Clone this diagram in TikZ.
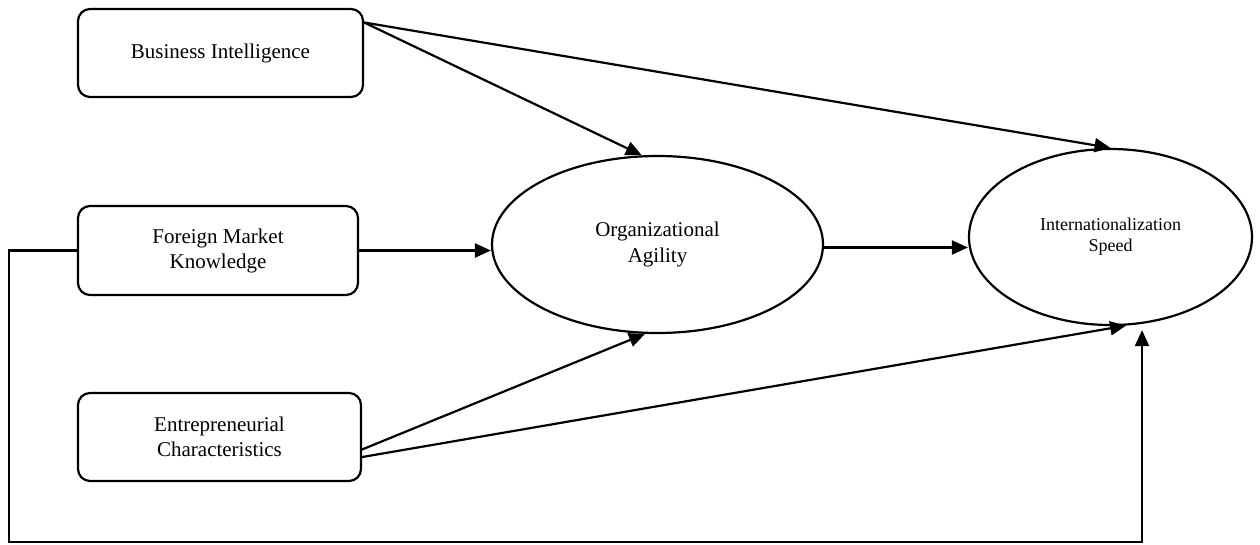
\documentclass[tikz,border=0pt]{standalone}
\usepackage{fontspec}
\setmainfont{Liberation Serif}
\usetikzlibrary{arrows.meta,calc,positioning,shapes.geometric}
\tikzset{
  construct/.style={draw,line width=2.2pt,rounded corners=12pt,inner sep=0pt,
    align=center,font=\fontsize{21}{25}\selectfont},
  latent/.style={draw,ellipse,line width=2.2pt,inner sep=0pt,align=center},
  link/.style={line width=2.2pt,-{Triangle[length=16pt,width=14pt]}}
}

\begin{document}
\begin{tikzpicture}[x=1pt,y=-1pt]
  \useasboundingbox (0,0) rectangle (1260,544);
  % draw constructs
  \node[construct,minimum width=285pt,minimum height=88pt] (bi)  at (220.5,53) {Business Intelligence};
  \node[construct,minimum width=280pt,minimum height=89pt] (fmk) at (218,250.5) {Foreign Market\\Knowledge};
  \node[construct,minimum width=283pt,minimum height=88pt] (ec)  at (219.5,437) {Entrepreneurial\\Characteristics};
  % draw latent variables
  \node[latent,minimum width=331pt,minimum height=177pt,font=\fontsize{21}{26}\selectfont] (org) at (657.5,244.5) {Organizational\\Agility};
  \node[latent,minimum width=283pt,minimum height=176pt,font=\fontsize{18}{21}\selectfont] (is) at (1110.5,237) {Internationalization\\Speed};
  % draw paths
  \coordinate (orgout) at ($(org.east)+(0,3)$);
  \draw[link] (bi.12) -- (org.100);
  \draw[link] (bi.12) -- (is.north);
  \draw[link] (fmk.east) -- (fmk.east -| org.west);
  \draw[link] (orgout) -- (orgout -| is.west);
  \draw[link] (ec.355) -- (org.262);
  \draw[link] (ec.352) -- (is.280);
  % draw direct path below
  \coordinate (loopl) at (9,542);
  \coordinate (loopr) at (1142,542);
  \draw[link,shorten >=4pt] (fmk.west) -| (loopl) -- (loopr) -- (loopr |- is.south);
\end{tikzpicture}
\end{document}
